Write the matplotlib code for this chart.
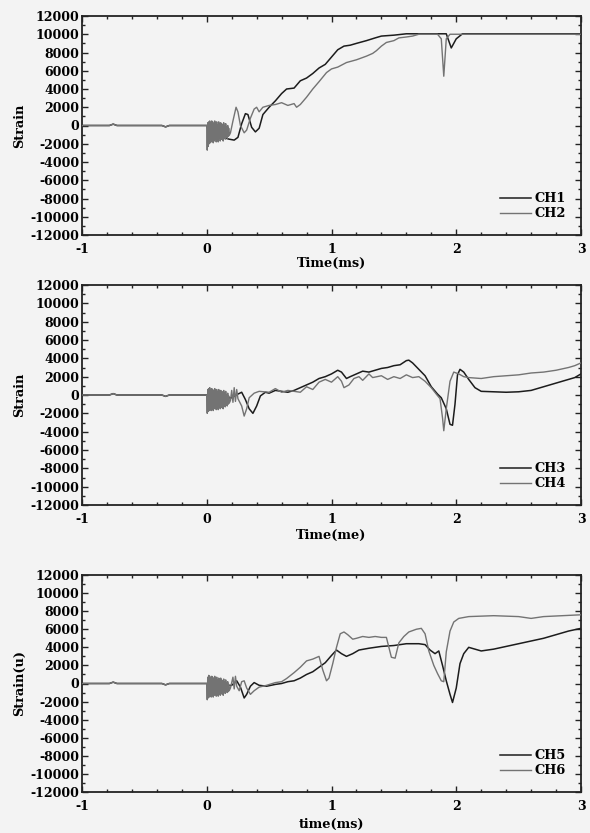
import matplotlib
matplotlib.use("Agg")
import matplotlib.pyplot as plt
from matplotlib.ticker import MultipleLocator, FixedLocator

plt.rcParams['font.family'] = ['DejaVu Serif']
plt.rcParams['font.weight'] = 'bold'
plt.rcParams['axes.unicode_minus'] = False

# ---------------- data ----------------
noise_t = [0.000, 0.004, 0.008, 0.012, 0.016, 0.020, 0.024, 0.028, 0.032, 0.036,
           0.040, 0.044, 0.048, 0.052, 0.056, 0.060, 0.064, 0.068, 0.072, 0.076,
           0.080, 0.084, 0.088, 0.092, 0.096, 0.100, 0.104, 0.108, 0.112, 0.116,
           0.120, 0.124, 0.128, 0.132, 0.136, 0.140, 0.144, 0.148, 0.152, 0.156,
           0.160, 0.164, 0.168, 0.172, 0.176, 0.180]

# Panel 1
pre_t = [-1.00, -0.78, -0.75, -0.72, -0.36, -0.33, -0.30, -0.01]
pre_v = [0, 0, 150, 0, 0, -150, 0, 0]

ch1_t = [0.00, 0.02, 0.10, 0.18, 0.22, 0.25, 0.28, 0.31, 0.33, 0.36, 0.39, 0.42, 0.45,
         0.50, 0.55, 0.60, 0.64, 0.70, 0.75, 0.80, 0.85, 0.90, 0.95, 1.00, 1.05,
         1.10, 1.15, 1.20, 1.28, 1.35, 1.40, 1.50, 1.60, 1.92, 1.96, 2.00, 2.05, 3.00]
ch1_v = [0, -1000, -1200, -1500, -1600, -1300, 200, 1300, 1200, -200, -700, -300, 1200,
         2000, 2700, 3500, 4000, 4100, 4900, 5200, 5700, 6300, 6700, 7500, 8300,
         8700, 8800, 9000, 9300, 9600, 9800, 9900, 10050, 10050, 8500, 9500, 10050, 10050]

noise1 = [0, -2700, 300, -2300, 400, -2000, 500, -1900, 300, -1800,
          500, -1700, 400, -1900, 200, -1700, 500, -1500, 300, -1800,
          400, -1600, 100, -1800, 400, -1400, 200, -1700, 300, -1500,
          200, -1500, 100, -1700, 300, -1300, 0, -1500, 200, -1300,
          -200, -1400, 0, -1200, -300, -1100]
ch2_t = [0.19, 0.21, 0.235, 0.25, 0.27, 0.30, 0.32, 0.35, 0.38, 0.40, 0.42, 0.45, 0.50,
         0.55, 0.60, 0.65, 0.70, 0.72, 0.75, 0.80, 0.85, 0.90, 0.96, 1.00, 1.05, 1.12,
         1.20, 1.28, 1.33, 1.36, 1.40, 1.44, 1.50, 1.54, 1.60, 1.65, 1.70, 1.85, 1.88,
         1.90, 1.92, 1.95, 3.00]
ch2_v = [-800, 500, 2000, 1500, 0, -800, -500, 800, 1800, 2000, 1500, 2000, 2200,
         2300, 2500, 2200, 2400, 2000, 2300, 3100, 4000, 4800, 5800, 6200, 6400, 6900,
         7200, 7600, 7900, 8200, 8700, 9100, 9300, 9600, 9700, 9800, 10000, 10000, 9500,
         5400, 9500, 10000, 10000]

# Panel 2
ch3_t = [0.00, 0.10, 0.20, 0.25, 0.28, 0.31, 0.34, 0.37, 0.40, 0.43, 0.47, 0.50, 0.55,
         0.60, 0.65, 0.70, 0.75, 0.80, 0.85, 0.90, 0.95, 1.00, 1.05, 1.08, 1.12, 1.15,
         1.20, 1.25, 1.30, 1.35, 1.40, 1.45, 1.50, 1.55, 1.60, 1.62, 1.65, 1.70, 1.75,
         1.80, 1.85, 1.88, 1.92, 1.95, 1.97, 1.99, 2.01, 2.03, 2.06, 2.10, 2.15, 2.20,
         2.30, 2.40, 2.50, 2.60, 2.70, 2.80, 2.90, 2.95, 3.00]
ch3_v = [0, -400, -300, 100, 300, -500, -1500, -2000, -1200, -100, 300, 200, 500,
         400, 300, 500, 800, 1100, 1400, 1800, 2000, 2300, 2700, 2500, 1800, 2000,
         2300, 2600, 2500, 2700, 2900, 3000, 3200, 3300, 3750, 3800, 3500, 2800, 2100,
         900, 100, -300, -1500, -3200, -3300, -1000, 2200, 2800, 2500, 1700, 800, 400,
         350, 300, 350, 500, 900, 1300, 1700, 1900, 2300]

noise2 = [0, -2000, 600, -1800, 700, -1700, 800, -1600, 500, -1700,
          700, -1500, 600, -1700, 400, -1500, 700, -1400, 500, -1600,
          600, -1400, 300, -1600, 600, -1300, 400, -1500, 500, -1300,
          400, -1400, 300, -1500, 500, -1200, 200, -1300, 400, -1100,
          0, -1200, 200, -1000, -100, -900]
ch4_t = [0.19, 0.20, 0.21, 0.22, 0.23, 0.24, 0.25, 0.28, 0.30, 0.32, 0.34, 0.38, 0.42,
         0.50, 0.55, 0.60, 0.65, 0.70, 0.75, 0.80, 0.85, 0.90, 0.95, 1.00, 1.05, 1.08,
         1.10, 1.14, 1.18, 1.22, 1.25, 1.30, 1.33, 1.40, 1.45, 1.50, 1.55, 1.60, 1.65,
         1.70, 1.75, 1.80, 1.84, 1.87, 1.89, 1.90, 1.92, 1.95, 1.98, 2.02, 2.06, 2.10,
         2.20, 2.30, 2.40, 2.50, 2.60, 2.70, 2.80, 2.90, 2.95, 3.00]
ch4_v = [-600, 500, -800, 800, -700, 600, -400, -1200, -2300, -1500, -300, 200, 400,
         300, 700, 300, 500, 400, 300, 900, 600, 1400, 1700, 1400, 2000, 1500,
         800, 1100, 1800, 2000, 1600, 2300, 1900, 2100, 1700, 2000, 1800, 2200, 1900,
         2000, 1500, 800, 100, -400, -2500, -3900, -1500, 1500, 2500, 2300, 2000, 1900,
         1800, 2000, 2100, 2200, 2400, 2500, 2700, 3000, 3200, 3500]

# Panel 3
ch5_t = [0.00, 0.10, 0.20, 0.24, 0.27, 0.30, 0.32, 0.35, 0.38, 0.42, 0.48, 0.55, 0.60,
         0.65, 0.70, 0.75, 0.80, 0.85, 0.90, 0.95, 1.00, 1.04, 1.08, 1.12, 1.17, 1.22,
         1.30, 1.40, 1.50, 1.60, 1.70, 1.75, 1.79, 1.83, 1.86, 1.89, 1.92, 1.95, 1.97,
         2.00, 2.03, 2.06, 2.10, 2.15, 2.20, 2.30, 2.40, 2.50, 2.60, 2.70, 2.80, 2.90, 3.00]
ch5_v = [0, -300, -200, 300, -400, -1600, -1200, -300, 100, -200, -300, -100, 0,
         200, 300, 600, 1000, 1300, 1800, 2300, 3100, 3700, 3300, 3000, 3300, 3700,
         3900, 4100, 4200, 4400, 4400, 4300, 3700, 3300, 3600, 2000, 300, -1200, -2100,
         -500, 2200, 3300, 4000, 3800, 3600, 3800, 4100, 4400, 4700, 5000, 5400, 5800, 6100]

noise3 = [0, -1800, 700, -1600, 900, -1500, 800, -1400, 600, -1500,
          800, -1300, 700, -1500, 500, -1300, 800, -1200, 600, -1400,
          700, -1200, 400, -1400, 600, -1100, 500, -1300, 600, -1100,
          400, -1200, 300, -1300, 500, -1000, 200, -1100, 400, -900,
          100, -1000, 200, -900, -100, -800]
ch6_t = [0.19, 0.21, 0.22, 0.23, 0.24, 0.26, 0.28, 0.30, 0.32, 0.35, 0.38, 0.42, 0.48,
         0.55, 0.60, 0.64, 0.70, 0.75, 0.80, 0.85, 0.90, 0.93, 0.96, 0.98, 1.01, 1.04,
         1.07, 1.10, 1.13, 1.17, 1.20, 1.25, 1.30, 1.35, 1.40, 1.44, 1.46, 1.48, 1.51,
         1.54, 1.58, 1.62, 1.68, 1.72, 1.75, 1.78, 1.82, 1.85, 1.88, 1.90, 1.92, 1.95,
         1.98, 2.02, 2.10, 2.30, 2.50, 2.60, 2.70, 2.85, 3.00]
ch6_v = [-500, 700, -600, 800, -300, -800, 200, 300, -500, -1200, -800, -400, -200,
         100, 200, 550, 1200, 1800, 2500, 2700, 3000, 1500, 300, 600, 2200, 4000,
         5500, 5700, 5400, 4900, 5000, 5200, 5100, 5200, 5100, 5100, 4000, 2900, 2800,
         4500, 5200, 5700, 6000, 6100, 5500, 3600, 2000, 1100, 300, 200, 3500, 5800,
         6800, 7200, 7400, 7500, 7400, 7200, 7400, 7500, 7600]

panels = [
    dict(black=(pre_t + ch1_t, pre_v + ch1_v), gray=(pre_t + noise_t + ch2_t, pre_v + noise1 + ch2_v),
         labels=("CH1", "CH2"), xlabel="Time(ms)", ylabel="Strain", xlpad=0.5),
    dict(black=(pre_t + ch3_t, pre_v + ch3_v), gray=(pre_t + noise_t + ch4_t, pre_v + noise2 + ch4_v),
         labels=("CH3", "CH4"), xlabel="Time(me)", ylabel="Strain", xlpad=2),
    dict(black=(pre_t + ch5_t, pre_v + ch5_v), gray=(pre_t + noise_t + ch6_t, pre_v + noise3 + ch6_v),
         labels=("CH5", "CH6"), xlabel="time(ms)", ylabel="Strain(u)", xlpad=3.5),
]

yticks = [-12000, -10000, -8000, -6000, -4000, -2000, 0, 2000, 4000, 6000, 8000, 10000, 12000]
xticks = [-1, 0, 1, 2, 3]

# ---------------- figure ----------------
W, H = 590, 833
bg = '#f3f3f3'
fig = plt.figure(figsize=(W / 100, H / 100), dpi=100, facecolor=bg)

rows = [(16, 235), (285, 505), (575, 792)]
left_px, right_px = 82, 581

for p, (top, bot) in zip(panels, rows):
    ax = fig.add_axes([left_px / W, 1 - bot / H, (right_px - left_px) / W, (bot - top) / H])
    ax.set_facecolor(bg)
    gt, gv = p['gray']
    bt, bv = p['black']
    ax.plot(bt, bv, color='#1c1c1c', lw=1.1, label=p['labels'][0], zorder=2)
    ax.plot(gt, gv, color='#737373', lw=1.0, label=p['labels'][1], zorder=3)
    ax.set_xlim(-1, 3)
    ax.set_ylim(-12000, 12000)
    ax.xaxis.set_major_locator(FixedLocator(xticks))
    ax.xaxis.set_minor_locator(MultipleLocator(0.2))
    ax.yaxis.set_major_locator(FixedLocator(yticks))
    ax.yaxis.set_minor_locator(MultipleLocator(1000))
    ax.set_xticklabels([str(v) for v in xticks])
    ax.set_yticklabels([str(v) for v in yticks])
    ax.tick_params(which='both', direction='in', top=True, right=True, width=1.0,
                   labelsize=9, color='#222222')
    ax.tick_params(which='major', length=4.5)
    ax.tick_params(which='minor', length=2.5)
    ax.tick_params(axis='x', which='major', pad=6)
    ax.tick_params(axis='y', which='major', pad=2)
    for s in ax.spines.values():
        s.set_linewidth(1.3)
        s.set_color('#222222')
    for lab in ax.get_xticklabels() + ax.get_yticklabels():
        lab.set_fontweight('bold')
    ax.set_xlabel(p['xlabel'], fontsize=9.3, fontweight='bold', labelpad=p['xlpad'])
    ax.set_ylabel(p['ylabel'], fontsize=9.3, fontweight='bold', labelpad=3)
    ax.legend(loc='lower right', frameon=False, handlelength=2.4,
              handletextpad=0.3, labelspacing=0.15, borderaxespad=0.75,
              prop={'weight': 'bold', 'size': 9.3})

fig.savefig('out.png', dpi=100, facecolor=bg)
